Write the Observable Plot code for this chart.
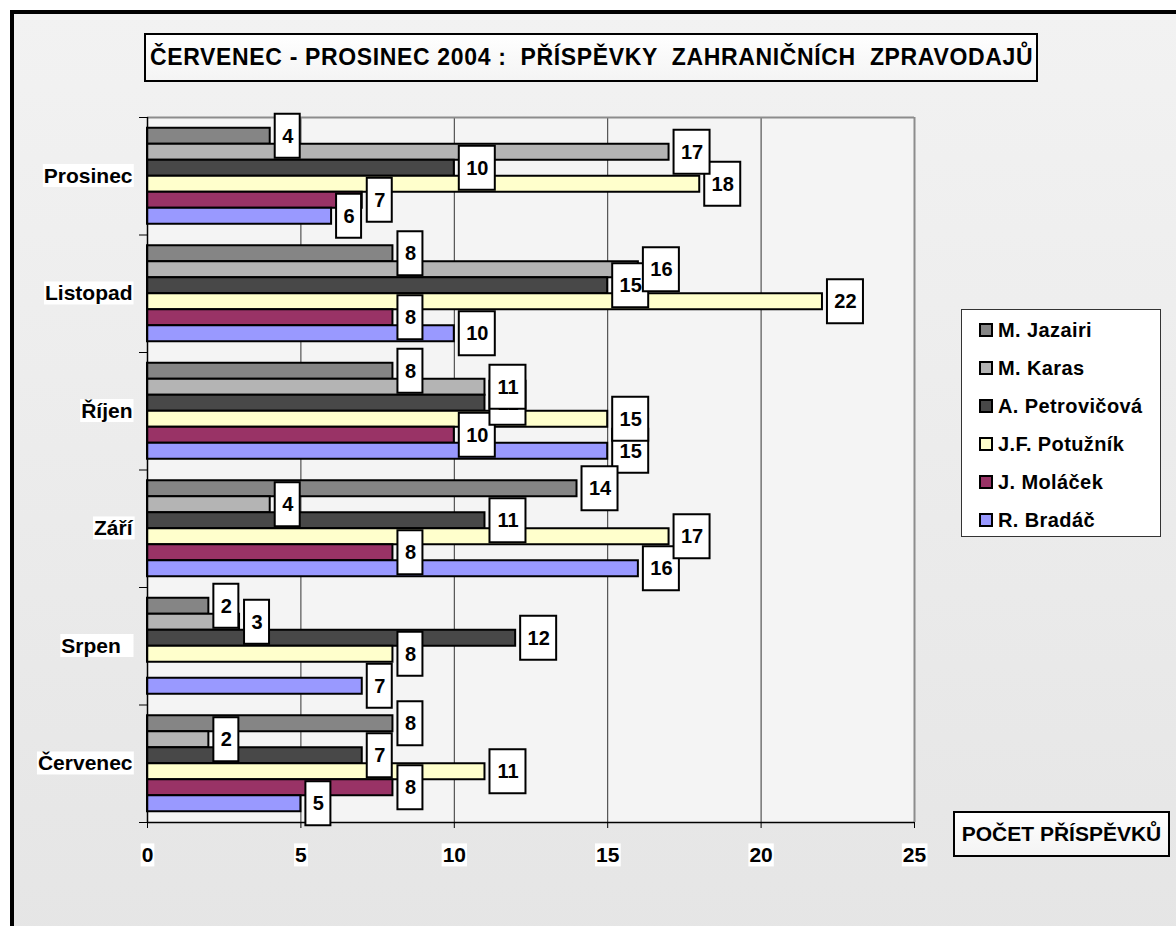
<!DOCTYPE html>
<html>
<head>
<meta charset="utf-8">
<script src="https://cdn.jsdelivr.net/npm/d3@7"></script>
<script src="https://cdn.jsdelivr.net/npm/@observablehq/plot@0.6"></script>
<style>
body{margin:0;background:#fff;font-family:"Liberation Sans",Arial,sans-serif;}
#wrap{position:relative;width:1176px;height:926px;overflow:hidden;}
#frame{position:absolute;left:10px;top:10px;width:1200px;height:940px;border-left:4px solid #000;border-top:4px solid #000;background:linear-gradient(#f2f2f2,#e5e5e5);}
#chart{position:absolute;left:0;top:0;}
.box{position:absolute;background:linear-gradient(#ffffff,#f4f4f4);border:2px solid #000;box-sizing:border-box;font-weight:bold;color:#000;}
#title{left:144px;top:33px;width:894px;height:49px;font-size:23px;letter-spacing:0.65px;line-height:45px;padding-left:4px;white-space:pre;}
#xlabel{left:953px;top:811px;width:217px;height:46px;font-size:21px;line-height:42px;text-align:center;}
#legend{position:absolute;left:961px;top:309px;width:200px;height:228px;background:#fff;border:1px solid #333;box-sizing:border-box;padding-top:1px;}
.item{height:38px;line-height:38px;padding-left:17px;font-weight:bold;font-size:20px;letter-spacing:0.4px;white-space:nowrap;display:flex;align-items:center;}
.sw{width:14px;height:14px;border:2px solid #000;box-sizing:border-box;margin-right:5px;flex:none;}
</style>
</head>
<body>
<div id="wrap">
  <div id="frame"></div>
  <div id="chart"></div>
  <div id="title" class="box"></div>
  <div id="legend"></div>
  <div id="xlabel" class="box"></div>
</div>
<script>
// ---- data ----
const titleText = "ČERVENEC - PROSINEC 2004 :  PŘÍSPĚVKY  ZAHRANIČNÍCH  ZPRAVODAJŮ";
const xTitle = "POČET PŘÍSPĚVKŮ";
const months = ["Prosinec", "Listopad", "Říjen", "Září", "Srpen\u00a0\u00a0", "Červenec"];
const series = ["M. Jazairi", "M. Karas", "A. Petrovičová", "J.F. Potužník", "J. Moláček", "R. Bradáč"];
const seriesColors = ["#858585", "#b4b4b4", "#484848", "#ffffcc", "#993366", "#9999ff"];
const jazairi     = [4, 8, 8, 14, 2, 8];
const karas       = [17, 16, 11, 4, 3, 2];
const petrovicova = [10, 15, 11, 11, 12, 7];
const potuznik    = [18, 22, 15, 17, 8, 11];
const molacek     = [7, 8, 10, 8, null, 8];
const bradac      = [6, 10, 15, 16, 7, 5];
const xTicks = [0, 5, 10, 15, 20, 25];
const gridValues = [5, 10, 15, 20];

// ---- layout helpers (fractions of a month band) ----
const BAND_PX = 117.5, PAD = 10.75 / BAND_PX, BAR = 16 / BAND_PX;
const values = [jazairi, karas, petrovicova, potuznik, molacek, bradac];
const rows = [];
values.forEach((arr, k) => arr.forEach((v, i) => {
  if (v == null) return;
  const y1 = i + PAD + k * BAR;
  rows.push({k, series: series[k], month: months[i], v, y1, y2: y1 + BAR, yc: y1 + BAR / 2});
}));

function labelMarks(k) {
  const rs = rows.filter(d => d.k === k);
  const out = [];
  for (const [digits, w] of [[1, 25], [2, 36]]) {
    const sub = rs.filter(d => String(d.v).length === digits);
    out.push(Plot.rect(sub, {x1: "v", x2: "v", y1: "y1", y2: "y2",
      insetLeft: 5, insetRight: -(5 + w), insetTop: -14, insetBottom: -14,
      fill: "white", stroke: "#000", strokeWidth: 2}));
    out.push(Plot.text(sub, {x: "v", y: "yc", text: d => String(d.v), dx: 5 + w / 2,
      fontSize: 20, fontWeight: "bold", fill: "#000"}));
  }
  return out;
}

const bounds = d3.range(0, months.length + 1);
const centers = d3.range(0, months.length).map(i => i + 0.5);

const chart = Plot.plot({
  width: 1176, height: 926,
  marginLeft: 147, marginRight: 262, marginTop: 117, marginBottom: 104,
  style: {background: "transparent", fontFamily: "'Liberation Sans', Arial, sans-serif", fontWeight: "bold", fontSize: "21px", color: "#000"},
  x: {domain: [0, 25]},
  y: {domain: [0, months.length], range: [117, 822]},
  color: {domain: series, range: seriesColors},
  marks: [
    Plot.frame({fill: "#f4f4f4", stroke: null}),
    Plot.ruleX(gridValues, {stroke: "#333", strokeWidth: 1}),
    Plot.ruleY([0], {stroke: "#8c8c8c", strokeWidth: 2}),
    Plot.ruleX([25], {stroke: "#8c8c8c", strokeWidth: 2}),
    Plot.rect(rows, {x1: 0, x2: "v", y1: "y1", y2: "y2", fill: "series", stroke: "#000", strokeWidth: 2}),
    Plot.ruleX([0], {stroke: "#000", strokeWidth: 1.5}),
    Plot.ruleY([months.length], {stroke: "#000", strokeWidth: 1.5}),
    Plot.axisX(xTicks, {tickSize: 6, tickPadding: 19, tickFormat: d => String(d), label: null, stroke: "#000"}),
    Plot.axisY(bounds, {tickSize: 8, tickFormat: () => "", label: null, stroke: "#000"}),
    Plot.axisY(centers, {tickSize: 0, tickPadding: 15, tickFormat: d => months[Math.floor(d)], label: null}),
    ...d3.range(series.length - 1, -1, -1).flatMap(k => labelMarks(k))
  ]
});

document.getElementById("chart").appendChild(chart);
document.getElementById("title").textContent = titleText;
document.getElementById("xlabel").textContent = xTitle;

const legend = document.getElementById("legend");
series.forEach((s, k) => {
  const it = document.createElement("div");
  it.className = "item";
  const sw = document.createElement("span");
  sw.className = "sw";
  sw.style.background = seriesColors[k];
  it.appendChild(sw);
  it.appendChild(document.createTextNode(s));
  legend.appendChild(it);
});

// white backgrounds behind axis tick labels (as in the original)
chart.querySelectorAll('g[aria-label$="tick label"] text').forEach(t => {
  const b = t.getBBox();
  if (!b.width) return;
  const r = document.createElementNS("http://www.w3.org/2000/svg", "rect");
  r.setAttribute("x", b.x - 1);
  r.setAttribute("y", b.y);
  r.setAttribute("width", b.width + 2);
  r.setAttribute("height", b.height);
  r.setAttribute("fill", "#fff");
  const tr = t.getAttribute("transform");
  if (tr) r.setAttribute("transform", tr);
  t.parentNode.insertBefore(r, t);
});
</script>
</body>
</html>
